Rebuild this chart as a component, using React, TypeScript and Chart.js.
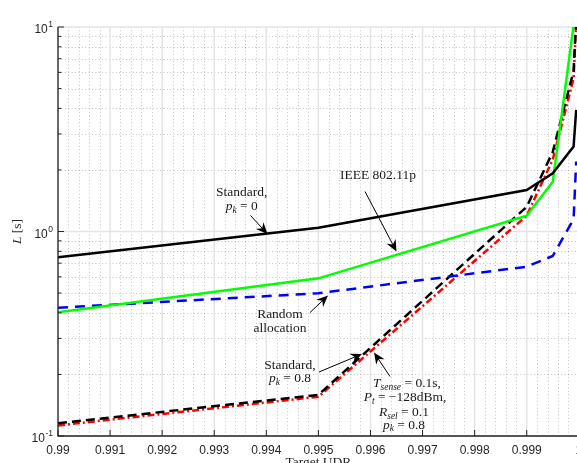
import React, { useEffect, useRef } from "react";
import { Chart, registerables } from "chart.js";
Chart.register(...registerables);

// ---- data ----
const targetUDR = [0.99, 0.995, 0.999, 0.9995, 0.9999, 0.99995];
const latStandardPk0 = [0.748, 1.044, 1.596, 1.925, 2.6, 3.93];
const latIeee80211p = [0.403, 0.59, 1.195, 1.75, 10.2, 40];
const latRandomAlloc = [0.424, 0.499, 0.673, 0.759, 1.15, 2.2];
const latStandardPk08 = [0.1154, 0.159, 1.32, 2.45, 6.1, 11];
const latTsensePk08 = [0.1126, 0.1556, 1.195, 2.25, 5.6, 10.6];

const xTickValues = [0.99, 0.991, 0.992, 0.993, 0.994, 0.995, 0.996, 0.997, 0.998, 0.999, 1];
const xTickLabels = ["0.99", "0.991", "0.992", "0.993", "0.994", "0.995", "0.996", "0.997", "0.998", "0.999", "1"];
const yTickValues = [0.1, 1, 10];
const yTickExponents = ["-1", "0", "1"];

const W = 600;
const H = 480;
const SERIF = '"Liberation Serif", "Times New Roman", serif';
const SANS = '"Liberation Sans", Arial, sans-serif';

type Seg = { t: string; it?: boolean; sub?: boolean };

function segFont(s: Seg, size: number) {
  const sz = s.sub ? size * 0.7 : size;
  return `${s.it ? "italic " : ""}${sz}px ${SERIF}`;
}

function drawRich(ctx: CanvasRenderingContext2D, segs: Seg[], cx: number, y: number, size: number) {
  let w = 0;
  for (const s of segs) {
    ctx.font = segFont(s, size);
    w += ctx.measureText(s.t).width;
  }
  let x = cx - w / 2;
  ctx.textAlign = "left";
  ctx.textBaseline = "alphabetic";
  for (const s of segs) {
    ctx.font = segFont(s, size);
    ctx.fillText(s.t, x, y + (s.sub ? size * 0.22 : 0));
    x += ctx.measureText(s.t).width;
  }
}

function drawArrow(ctx: CanvasRenderingContext2D, x1: number, y1: number, x2: number, y2: number) {
  const a = Math.atan2(y2 - y1, x2 - x1);
  const L = 11.5, hw = 5;
  const ca = Math.cos(a), sa = Math.sin(a);
  const bx = x2 - L * ca, by = y2 - L * sa;
  ctx.save();
  ctx.strokeStyle = "#000";
  ctx.fillStyle = "#000";
  ctx.lineWidth = 1;
  ctx.beginPath();
  ctx.moveTo(x1, y1);
  ctx.lineTo(x2 - 6 * ca, y2 - 6 * sa);
  ctx.stroke();
  ctx.beginPath();
  ctx.moveTo(x2, y2);
  ctx.lineTo(bx - hw * sa, by + hw * ca);
  ctx.lineTo(x2 - 0.68 * L * ca, y2 - 0.68 * L * sa);
  ctx.lineTo(bx + hw * sa, by - hw * ca);
  ctx.closePath();
  ctx.fill();
  ctx.restore();
}

const gridPlugin = {
  id: "gridPlugin",
  beforeDatasetsDraw(chart: any) {
    const { ctx, chartArea, scales } = chart;
    const { left, right, top, bottom } = chartArea;
    const xs = scales.x, ys = scales.y;
    ctx.save();
    // minor dotted
    ctx.strokeStyle = "rgba(0,0,0,0.24)";
    ctx.lineWidth = 1;
    ctx.setLineDash([1, 2.4]);
    for (let i = 0; i < 50; i++) {
      if (i % 5 === 0) continue;
      const px = Math.round(xs.getPixelForValue(0.99 + i * 0.0002)) + 0.5;
      ctx.beginPath();
      ctx.moveTo(px, bottom);
      ctx.lineTo(px, top);
      ctx.stroke();
    }
    for (const dec of [0.1, 1]) {
      for (let m = 2; m <= 9; m++) {
        const py = Math.round(ys.getPixelForValue(m * dec)) + 0.5;
        ctx.beginPath();
        ctx.moveTo(left, py);
        ctx.lineTo(right, py);
        ctx.stroke();
      }
    }
    // major solid
    ctx.setLineDash([]);
    ctx.strokeStyle = "#e4e4e4";
    ctx.lineWidth = 1.5;
    for (const v of xTickValues) {
      const px = xs.getPixelForValue(v);
      ctx.beginPath();
      ctx.moveTo(px, bottom);
      ctx.lineTo(px, top);
      ctx.stroke();
    }
    for (const v of yTickValues) {
      const py = ys.getPixelForValue(v);
      ctx.beginPath();
      ctx.moveTo(left, py);
      ctx.lineTo(right, py);
      ctx.stroke();
    }
    ctx.restore();
  },
};

const overlayPlugin = {
  id: "overlayPlugin",
  afterDatasetsDraw(chart: any) {
    const { ctx, chartArea, scales } = chart;
    const { left, right, top, bottom } = chartArea;
    const xs = scales.x, ys = scales.y;
    ctx.save();
    // axes
    ctx.strokeStyle = "#262626";
    ctx.lineWidth = 1.3;
    ctx.beginPath();
    ctx.moveTo(left, top);
    ctx.lineTo(left, bottom);
    ctx.lineTo(right, bottom);
    ctx.stroke();
    // x ticks
    ctx.lineWidth = 1;
    for (const v of xTickValues) {
      const px = xs.getPixelForValue(v);
      ctx.beginPath();
      ctx.moveTo(px, bottom);
      ctx.lineTo(px, bottom - 6);
      ctx.stroke();
    }
    // y ticks major + minor
    for (const v of yTickValues) {
      const py = ys.getPixelForValue(v);
      ctx.beginPath();
      ctx.moveTo(left, py);
      ctx.lineTo(left + 6, py);
      ctx.stroke();
    }
    for (const dec of [0.1, 1]) {
      for (let m = 2; m <= 9; m++) {
        const py = ys.getPixelForValue(m * dec);
        ctx.beginPath();
        ctx.moveTo(left, py);
        ctx.lineTo(left + 3.5, py);
        ctx.stroke();
      }
    }
    // tick labels
    ctx.fillStyle = "#262626";
    ctx.font = `12px ${SANS}`;
    ctx.textAlign = "center";
    ctx.textBaseline = "alphabetic";
    xTickValues.forEach((v, i) => {
      ctx.fillText(xTickLabels[i], xs.getPixelForValue(v), bottom + 18);
    });
    yTickValues.forEach((v, i) => {
      const py = ys.getPixelForValue(v);
      ctx.font = `8.5px ${SANS}`;
      const ew = ctx.measureText(yTickExponents[i]).width;
      ctx.textAlign = "right";
      ctx.fillText(yTickExponents[i], left - 5, py);
      ctx.font = `12px ${SANS}`;
      ctx.fillText("10", left - 5 - ew - 0.5, py + 6);
    });
    // axis titles
    ctx.fillStyle = "#262626";
    ctx.save();
    ctx.translate(21, (top + bottom) / 2);
    ctx.rotate(-Math.PI / 2);
    drawRich(ctx, [{ t: "L", it: true }, { t: " [s]" }], 0, 0, 13.5);
    ctx.restore();
    drawRich(ctx, [{ t: "Target UDR" }], (left + right) / 2, bottom + 30, 13.5);

    // annotations
    ctx.fillStyle = "#1a1a1a";
    const fs = 13.5;
    drawRich(ctx, [{ t: "Standard," }], 241.7, 196, fs);
    drawRich(ctx, [{ t: "p", it: true }, { t: "k", it: true, sub: true }, { t: " = 0" }], 241.7, 210, fs);
    drawRich(ctx, [{ t: "IEEE 802.11p" }], 378, 179, fs);
    drawRich(ctx, [{ t: "Random" }], 280, 318, fs);
    drawRich(ctx, [{ t: "allocation" }], 280, 331.5, fs);
    drawRich(ctx, [{ t: "Standard," }], 290, 369, fs);
    drawRich(ctx, [{ t: "p", it: true }, { t: "k", it: true, sub: true }, { t: " = 0.8" }], 290, 382, fs);
    drawRich(ctx, [{ t: "T", it: true }, { t: "sense", it: true, sub: true }, { t: " = 0.1s," }], 407, 387, fs);
    drawRich(ctx, [{ t: "P", it: true }, { t: "t", it: true, sub: true }, { t: " = \u2212128dBm," }], 405, 401, fs);
    drawRich(ctx, [{ t: "R", it: true }, { t: "sel", it: true, sub: true }, { t: " = 0.1" }], 404, 416, fs);
    drawRich(ctx, [{ t: "p", it: true }, { t: "k", it: true, sub: true }, { t: " = 0.8" }], 404, 428.5, fs);

    drawArrow(ctx, 250.5, 215.5, 267.5, 234);
    drawArrow(ctx, 365, 191.5, 396.5, 251.5);
    drawArrow(ctx, 310, 312.5, 328, 295.5);
    drawArrow(ctx, 319, 372, 362, 354);
    drawArrow(ctx, 390, 376.5, 374, 352.5);
    ctx.restore();
  },
};

function mk(vals: number[]) {
  return targetUDR.map((x, i) => ({ x, y: vals[i] }));
}

export default function App() {
  const ref = useRef<HTMLCanvasElement>(null);
  useEffect(() => {
    const canvas = ref.current!;
    const common = { pointRadius: 0, tension: 0, borderWidth: 2.5, fill: false, clip: 0 };
    const chart = new Chart(canvas, {
      type: "line",
      data: {
        datasets: [
          { label: "Standard, pk=0", data: mk(latStandardPk0), borderColor: "#000000", ...common },
          { label: "IEEE 802.11p", data: mk(latIeee80211p), borderColor: "#00ff00", ...common },
          { label: "Random allocation", data: mk(latRandomAlloc), borderColor: "#0000ff", borderDash: [10, 7], ...common },
          { label: "Standard, pk=0.8", data: mk(latStandardPk08), borderColor: "#000000", borderDash: [9, 5], ...common },
          { label: "Tsense=0.1s, pk=0.8", data: mk(latTsensePk08), borderColor: "#ff0000", borderDash: [7, 3, 2, 3], ...common },
        ] as any,
      },
      options: {
        animation: false,
        responsive: false,
        devicePixelRatio: 1,
        layout: { padding: { left: 58, top: 27, right: W - 578.8, bottom: H - 436 } },
        plugins: { legend: { display: false }, tooltip: { enabled: false } },
        scales: {
          x: { type: "linear", min: 0.99, max: 1, display: false },
          y: { type: "logarithmic", min: 0.1, max: 10, display: false },
        },
      } as any,
      plugins: [gridPlugin, overlayPlugin],
    });
    return () => chart.destroy();
  }, []);
  return (
    <div style={{ position: "fixed", left: 0, top: 0, background: "#fff" }}>
      <canvas ref={ref} width={W} height={H} style={{ width: W, height: H, display: "block" }} />
    </div>
  );
}
